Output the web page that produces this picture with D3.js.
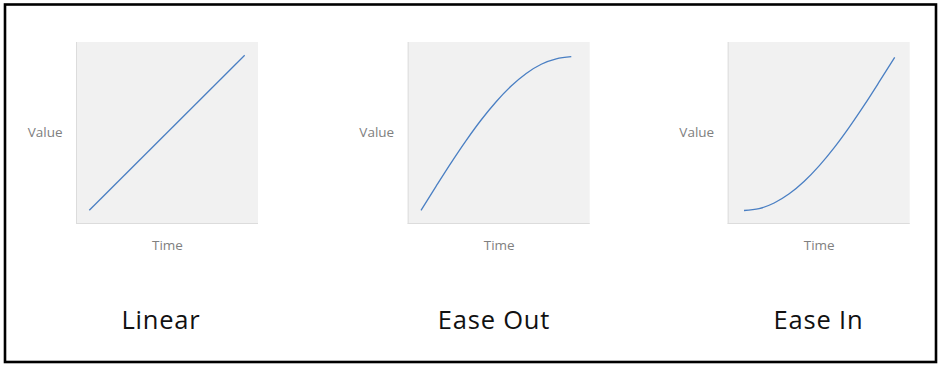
<!DOCTYPE html>
<html>
<head>
<meta charset="utf-8">
<script src="https://cdn.jsdelivr.net/npm/d3@7"></script>
<style>
  html, body { margin: 0; padding: 0; background: #fff; }
  svg { display: block; }
</style>
</head>
<body>
<svg id="chart" width="941" height="365"></svg>
<script>
// Easing curves: normalised time (0..1) against normalised value (0..1)
const titles = ["Linear", "Ease Out", "Ease In"];
const xAxisLabel = "Time";
const yAxisLabel = "Value";

const linearTime  = [0, 1];
const linearValue = [0, 1];

const easeTime     = [0, 0.1, 0.2, 0.3, 0.4, 0.5, 0.6, 0.7, 0.8, 0.9, 1];
const easeOutValue = [0, 0.156, 0.309, 0.454, 0.588, 0.707, 0.809, 0.891, 0.951, 0.986, 1];
const easeInValue  = [0, 0.012, 0.049, 0.109, 0.191, 0.293, 0.412, 0.546, 0.691, 0.844, 1];

const seriesTimes  = [linearTime, easeTime, easeTime];
const seriesValues = [linearValue, easeOutValue, easeInValue];

// Panel placement (plot box and inner drawing range for each panel)
const layout = [
  { left: 76,    x0: 89.3,  x1: 244.7, y0: 210.3, y1: 55.3, titleX: 161 },
  { left: 407.7, x0: 421,   x1: 571.3, y0: 210.3, y1: 56.7, titleX: 494 },
  { left: 727.7, x0: 744,   x1: 894.7, y0: 210.5, y1: 57.3, titleX: 818.5 }
];
const boxTop = 42, boxSize = 182;

const svg = d3.select("#chart");

// outer frame
svg.append("rect")
  .attr("x", 5).attr("y", 4.5)
  .attr("width", 931).attr("height", 357.5)
  .attr("fill", "none")
  .attr("stroke", "#000")
  .attr("stroke-width", 2.6);

titles.forEach((title, i) => {
  const L = layout[i];
  const g = svg.append("g");

  const x = d3.scaleLinear().domain([0, 1]).range([L.x0, L.x1]);
  const y = d3.scaleLinear().domain([0, 1]).range([L.y0, L.y1]);

  // plot background
  g.append("rect")
    .attr("x", L.left).attr("y", boxTop)
    .attr("width", boxSize).attr("height", boxSize)
    .attr("fill", "#f1f1f1");

  // left and bottom axis lines
  g.append("line")
    .attr("x1", L.left + 0.5).attr("x2", L.left + 0.5)
    .attr("y1", boxTop).attr("y2", boxTop + boxSize)
    .attr("stroke", "#dcdcdc").attr("stroke-width", 1);
  g.append("line")
    .attr("x1", L.left).attr("x2", L.left + boxSize)
    .attr("y1", boxTop + boxSize - 0.5).attr("y2", boxTop + boxSize - 0.5)
    .attr("stroke", "#dcdcdc").attr("stroke-width", 1);

  // the easing curve
  const pts = seriesTimes[i].map((t, k) => [t, seriesValues[i][k]]);
  g.append("path")
    .datum(pts)
    .attr("fill", "none")
    .attr("stroke", "#4a7fc3")
    .attr("stroke-width", 1.3)
    .attr("d", d3.line()
      .x(d => x(d[0]))
      .y(d => y(d[1]))
      .curve(d3.curveMonotoneX));

  // axis titles
  g.append("text")
    .attr("x", L.left - 13.5).attr("y", boxTop + boxSize / 2 + 3.8)
    .attr("text-anchor", "end")
    .attr("font-family", "'Open Sans', sans-serif")
    .attr("font-size", 13.5)
    .attr("fill", "#808080")
    .text(yAxisLabel);
  g.append("text")
    .attr("x", L.left + boxSize / 2 + 0.5).attr("y", boxTop + boxSize + 25.9)
    .attr("text-anchor", "middle")
    .attr("font-family", "'Open Sans', sans-serif")
    .attr("font-size", 13.5)
    .attr("fill", "#808080")
    .text(xAxisLabel);

  // panel title
  g.append("text")
    .attr("x", L.titleX).attr("y", 328.5)
    .attr("text-anchor", "middle")
    .attr("font-family", "'Open Sans', sans-serif")
    .attr("font-size", 25.5)
    .attr("letter-spacing", 0.8)
    .attr("fill", "#111")
    .text(title);
});
</script>
</body>
</html>
